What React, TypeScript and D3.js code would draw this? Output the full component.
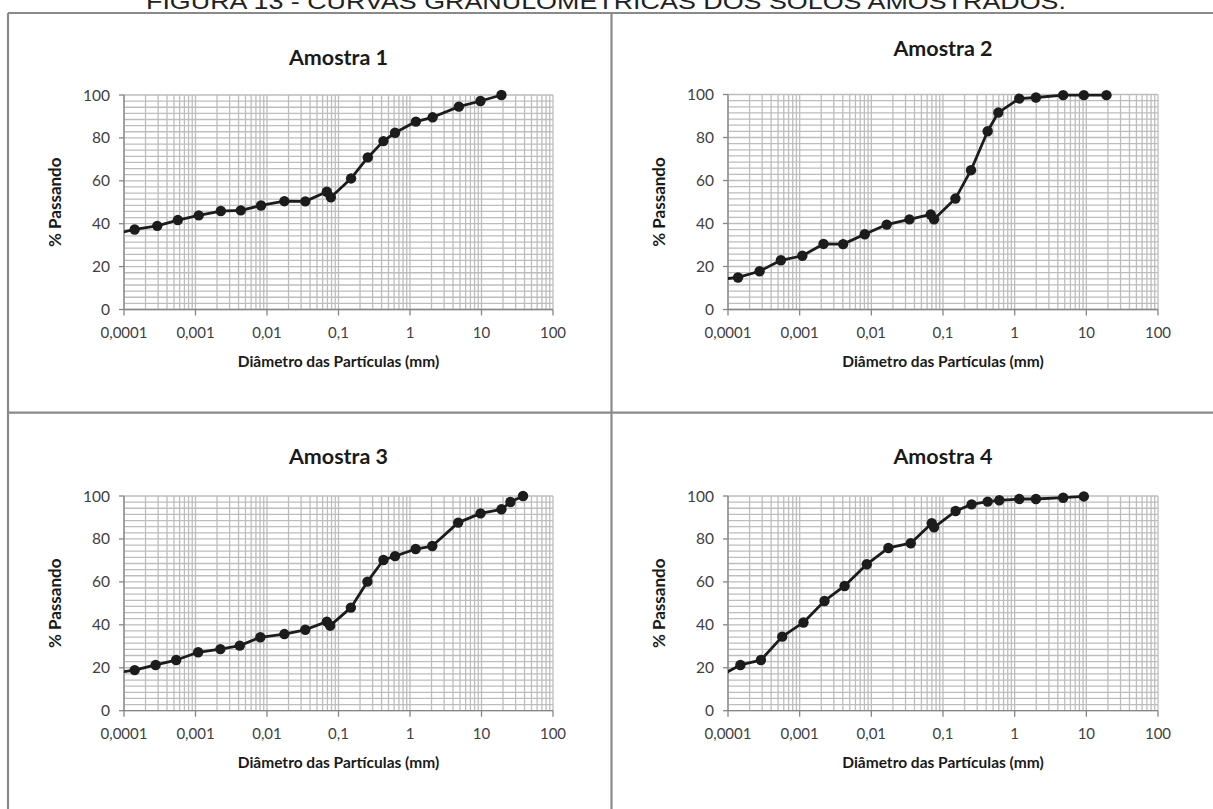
import * as d3 from 'd3';

// ─── Text ──────────────────────────────────────────────────
const FIG_TITLE = 'FIGURA 13 - CURVAS GRANULOMÉTRICAS DOS SOLOS AMOSTRADOS.';
const PANEL_TITLES = ['Amostra 1', 'Amostra 2', 'Amostra 3', 'Amostra 4'];
const X_TITLE = 'Diâmetro das Partículas (mm)';
const Y_TITLE = '% Passando';
const X_TICKS = [0.0001, 0.001, 0.01, 0.1, 1, 10, 100];
const X_TICK_LABELS = ['0,0001', '0,001', '0,01', '0,1', '1', '10', '100'];
const Y_TICKS = [0, 20, 40, 60, 80, 100];

// ─── Data (diameter mm / % passing) ───────────────────────
const diam1 = [0.00008, 0.000141, 0.000292, 0.000566, 0.00111, 0.00226, 0.0043, 0.00825, 0.0175, 0.0343, 0.0687, 0.0782, 0.15, 0.257, 0.425, 0.618, 1.21, 2.07, 4.83, 9.69, 19.0];
const pass1 = [35.5, 37.3, 39.0, 41.7, 43.9, 45.9, 46.2, 48.5, 50.5, 50.4, 54.9, 52.3, 61.1, 70.9, 78.5, 82.4, 87.6, 89.6, 94.6, 97.2, 100];

const diam2 = [0.00008, 0.000138, 0.000276, 0.000547, 0.00109, 0.00215, 0.00404, 0.0081, 0.0164, 0.034, 0.0674, 0.075, 0.149, 0.246, 0.42, 0.591, 1.16, 1.98, 4.75, 9.23, 19.1];
const pass2 = [14.1, 14.9, 17.8, 22.9, 25.0, 30.5, 30.4, 35.0, 39.5, 41.9, 44.2, 42.0, 51.6, 64.8, 82.9, 91.6, 98.1, 98.6, 99.7, 99.7, 99.7];

const diam3 = [0.00008, 0.000141, 0.000277, 0.000537, 0.00109, 0.00223, 0.00416, 0.00807, 0.0175, 0.0343, 0.0687, 0.0765, 0.149, 0.254, 0.425, 0.618, 1.2, 2.05, 4.72, 9.69, 19.0, 25.4, 38.1];
const pass3 = [17.7, 18.9, 21.3, 23.6, 27.2, 28.7, 30.3, 34.2, 35.7, 37.7, 41.5, 39.6, 48.0, 60.1, 70.2, 72.0, 75.3, 76.7, 87.6, 91.9, 93.8, 97.2, 100];

const diam4 = [0.00008, 0.000149, 0.000288, 0.000571, 0.00113, 0.00222, 0.00423, 0.00865, 0.0173, 0.0355, 0.0697, 0.075, 0.15, 0.251, 0.42, 0.61, 1.16, 1.98, 4.75, 9.23];
const pass4 = [16.5, 21.3, 23.6, 34.5, 41.1, 51.1, 58.1, 68.2, 75.8, 78.0, 87.3, 85.4, 93.0, 96.1, 97.4, 98.0, 98.6, 98.6, 99.2, 99.8];

const SERIES = [
  { diam: diam1, pass: pass1 },
  { diam: diam2, pass: pass2 },
  { diam: diam3, pass: pass3 },
  { diam: diam4, pass: pass4 },
];

// ─── Layout of the four plot areas ────────────────────────
const LAYOUT = [
  { left: 124, right: 553, top: 95, bottom: 309.5, titleY: 65 },
  { left: 728, right: 1158, top: 94.5, bottom: 309.5, titleY: 56 },
  { left: 124, right: 553, top: 496, bottom: 710.7, titleY: 464 },
  { left: 728, right: 1158, top: 496, bottom: 710.7, titleY: 464 },
];

const FONT = 'Lato, "Open Sans", "DejaVu Sans", sans-serif';
const GRID = '#bdbdbd';
const AXIS = '#868686';
const FRAME = '#8a8a8a';

// log minor grid values: 1..9 × 10^d
const xGrid: number[] = [];
for (let d = -4; d <= 1; d++) {
  for (let k = 1; k <= 9; k++) xGrid.push(k * Math.pow(10, d));
}
xGrid.push(100);
const yGrid = d3.range(0, 100.0001, 20 / 7);

function Panel({ idx }: { idx: number }) {
  const L = LAYOUT[idx];
  const s = SERIES[idx];
  const x = d3.scaleLog().domain([0.0001, 100]).range([L.left, L.right]);
  const y = d3.scaleLinear().domain([0, 100]).range([L.bottom, L.top]);
  const pts = s.diam.map((dv, i) => [dv, s.pass[i]] as [number, number]);
  const line = d3
    .line<[number, number]>()
    .x((d) => x(d[0]))
    .y((d) => y(d[1]));
  const clipId = `clip-${idx}`;
  const cx = (L.left + L.right) / 2;
  const cy = (L.top + L.bottom) / 2;

  return (
    <g>
      <defs>
        <clipPath id={clipId}>
          <rect x={L.left} y={L.top - 8} width={L.right - L.left + 8} height={L.bottom - L.top + 8} />
        </clipPath>
      </defs>
      {/* grid */}
      {yGrid.map((v, i) => (
        <line key={'h' + i} x1={L.left} x2={L.right} y1={y(v)} y2={y(v)} stroke={GRID} strokeWidth={1.3} />
      ))}
      {xGrid.map((v, i) => (
        <line key={'v' + i} x1={x(v)} x2={x(v)} y1={L.top} y2={L.bottom} stroke={GRID} strokeWidth={1.3} />
      ))}
      {/* axes */}
      <line x1={L.left} x2={L.left} y1={L.top} y2={L.bottom} stroke={AXIS} strokeWidth={1.3} />
      <line x1={L.left} x2={L.right} y1={L.bottom} y2={L.bottom} stroke={AXIS} strokeWidth={1.3} />
      {Y_TICKS.map((v) => (
        <g key={'yt' + v}>
          <line x1={L.left - 5} x2={L.left} y1={y(v)} y2={y(v)} stroke={AXIS} strokeWidth={1.3} />
          <text x={L.left - 14} y={y(v) + 5.5} textAnchor="end" fontSize={15.5} fill="#404040" fontFamily={FONT}>
            {v}
          </text>
        </g>
      ))}
      {X_TICKS.map((v, i) => (
        <g key={'xt' + i}>
          <line x1={x(v)} x2={x(v)} y1={L.bottom} y2={L.bottom + 6} stroke={AXIS} strokeWidth={1.3} />
          <text x={x(v)} y={L.bottom + 28} textAnchor="middle" fontSize={15} fill="#404040" fontFamily={FONT}>
            {X_TICK_LABELS[i]}
          </text>
        </g>
      ))}
      {/* series */}
      <g clipPath={`url(#${clipId})`}>
        <path d={line(pts) ?? ''} fill="none" stroke="#1c1c1c" strokeWidth={2.8} strokeLinejoin="round" />
        {pts
          .filter((d) => d[0] >= 0.0001)
          .map((d, i) => (
            <circle key={'p' + i} cx={x(d[0])} cy={y(d[1])} r={5.2} fill="#1c1c1c" />
          ))}
      </g>
      {/* titles */}
      <text x={cx} y={L.titleY} textAnchor="middle" fontSize={21.5} fontWeight="bold" fill="#1a1a1a" fontFamily={FONT}>
        {PANEL_TITLES[idx]}
      </text>
      <text x={cx} y={L.bottom + 57} textAnchor="middle" fontSize={15.5} fontWeight="bold" fill="#1a1a1a" fontFamily={FONT}>
        {X_TITLE}
      </text>
      <text
        transform={`translate(${L.left - 63},${cy}) rotate(-90)`}
        textAnchor="middle"
        fontSize={17}
        fontWeight="bold"
        fill="#1a1a1a"
        fontFamily={FONT}
      >
        {Y_TITLE}
      </text>
    </g>
  );
}

export default function App() {
  const W = 1213;
  const H = 809;
  return (
    <div style={{ position: 'fixed', left: 0, top: 0, width: W, height: H, background: '#fff' }}>
      <svg width={W} height={H} style={{ display: 'block' }}>
        <rect width={W} height={H} fill="#fff" />
        <text
          x={606}
          y={9}
          textAnchor="middle"
          fontSize={22}
          fill="#222"
          fontFamily='"Liberation Sans", Arial, sans-serif'
          textLength={920}
          lengthAdjust="spacingAndGlyphs"
        >
          {FIG_TITLE}
        </text>
        {/* frame */}
        <line x1={8} x2={W} y1={13} y2={13} stroke={FRAME} strokeWidth={2.2} />
        <line x1={8} x2={8} y1={13} y2={H} stroke={FRAME} strokeWidth={2.2} />
        <line x1={611.5} x2={611.5} y1={13} y2={H} stroke={FRAME} strokeWidth={2.2} />
        <line x1={8} x2={W} y1={412.7} y2={412.7} stroke={FRAME} strokeWidth={2.2} />
        {LAYOUT.map((_, i) => (
          <Panel key={i} idx={i} />
        ))}
      </svg>
    </div>
  );
}
